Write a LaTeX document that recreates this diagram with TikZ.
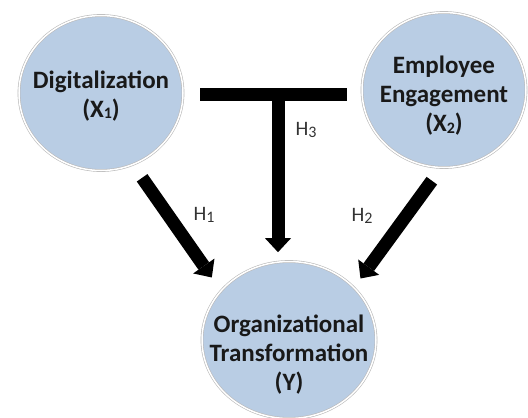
\documentclass[tikz,border=0pt]{standalone}
\usepackage{fontspec}
\setmainfont{Carlito}
\usetikzlibrary{arrows.meta,shapes.geometric}
\definecolor{varblue}{RGB}{185,205,228}
\newcommand{\subdig}[1]{\raisebox{-1.5pt}{\fontsize{16}{16}\selectfont #1}}

\begin{document}
\begin{tikzpicture}[x=1pt, y=-1pt,
    var/.style={ellipse, fill=varblue, draw=gray!55, double=white, double distance=1.5pt,
      line width=0.6pt, minimum width=164pt, minimum height=155pt, inner sep=0pt},
    txt/.style={align=center, font=\bfseries\fontsize{25}{29}\selectfont, text=black!90},
    hyp/.style={font=\fontsize{20.5}{24}\selectfont, text=black!80},
    arr/.style={line width=13pt, -{Triangle[width=26pt, length=14pt, line width=0pt]}},
    bar/.style={line width=13pt}]

    \useasboundingbox (0,0) rectangle (528,418);

    % Variables
    \node[var] (dig) at (101,93) {};
    \node[var] (emp) at (444,90) {};
    \node[var, minimum width=174pt, minimum height=157pt] (org) at (289,340) {};

    \node[txt] (digtxt) at (101,96) {Digitalization\\(X\subdig{1})};
    \node[txt] (emptxt) at (444,96) {Employee\\Engagement\\(X\subdig{2})};
    \node[txt] (orgtxt) at (289,355) {Organizational\\Transformation\\(Y)};

    % Direct effects
    \draw[arr, shorten <=16pt, shorten >=16pt] (dig.-66) -- (org.144);
    \draw[arr, shorten <=16pt, shorten >=11pt] (emp.-92) -- (org.39);

    % Joint effect (T)
    \coordinate (tl) at (200,94.5);
    \coordinate (tr) at (347,94.5);
    \coordinate (tm) at (278,94.5);
    \draw[bar] (tl) -- (tr);
    \draw[arr, shorten >=9pt] (tm) -- (tm |- org.north);

    % Hypotheses
    \node[hyp] (h1) at (204,215) {H\subdig{1}};
    \node[hyp] (h2) at (362,216) {H\subdig{2}};
    \node[hyp] (h3) at (306,130) {H\subdig{3}};

\end{tikzpicture}
\end{document}
